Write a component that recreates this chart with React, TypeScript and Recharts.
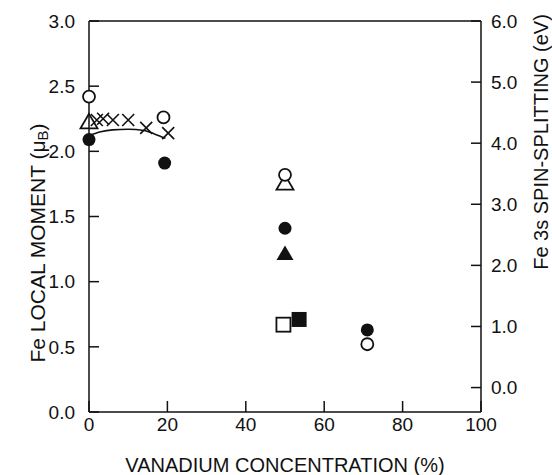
import React from "react";
import {
  ComposedChart,
  Line,
  ReferenceLine,
  Scatter,
  XAxis,
  YAxis,
} from "recharts";

type Pt = { x: number; y: number };

// values
const openCircles: Pt[] = [
  { x: 0, y: 2.42 },
  { x: 19, y: 2.26 },
  { x: 50, y: 1.82 },
  { x: 71, y: 0.52 },
];
const filledCircles: Pt[] = [
  { x: 0, y: 2.09 },
  { x: 19.3, y: 1.91 },
  { x: 50, y: 1.41 },
  { x: 71, y: 0.63 },
];
const openTriangles: Pt[] = [
  { x: 0, y: 2.23 },
  { x: 50, y: 1.76 },
];
const filledTriangles: Pt[] = [{ x: 50, y: 1.22 }];
const openSquares: Pt[] = [{ x: 49.6, y: 0.67 }];
const filledSquares: Pt[] = [{ x: 53.6, y: 0.71 }];
const crosses: Pt[] = [
  { x: 2, y: 2.24 },
  { x: 3.6, y: 2.25 },
  { x: 6.1, y: 2.24 },
  { x: 10, y: 2.24 },
  { x: 14.6, y: 2.18 },
  { x: 20.2, y: 2.14 },
];
const fitCurve: Pt[] = [
  { x: 0, y: 2.12 },
  { x: 3, y: 2.15 },
  { x: 6, y: 2.165 },
  { x: 10, y: 2.17 },
  { x: 14, y: 2.16 },
  { x: 17, y: 2.13 },
  { x: 19.5, y: 2.1 },
];

const xTicks = [0, 20, 40, 60, 80, 100];
const leftTicks = [0, 0.5, 1, 1.5, 2, 2.5, 3];
const rightTicks = [0, 1, 2, 3, 4, 5, 6];

const FONT = "'Liberation Sans', Arial, Helvetica, sans-serif";
const INK = "#111";

type Kind = "oc" | "fc" | "ot" | "ft" | "os" | "fs" | "x";

const marker = (kind: Kind) => (props: any) => {
  const { cx, cy } = props;
  if (cx == null || cy == null) return <g />;
  switch (kind) {
    case "oc":
      return <circle cx={cx} cy={cy} r={6} fill="#fff" stroke={INK} strokeWidth={1.8} />;
    case "fc":
      return <circle cx={cx} cy={cy} r={6.5} fill={INK} />;
    case "ot":
    case "ft": {
      const pts = `${cx},${cy - 7.5} ${cx + 8.5},${cy + 7} ${cx - 8.5},${cy + 7}`;
      return kind === "ot" ? (
        <polygon points={pts} fill="#fff" fillOpacity={0} stroke={INK} strokeWidth={1.8} />
      ) : (
        <polygon points={pts} fill={INK} />
      );
    }
    case "os":
      return <rect x={cx - 7} y={cy - 7} width={14} height={14} fill="#fff" stroke={INK} strokeWidth={1.8} />;
    case "fs":
      return <rect x={cx - 7.5} y={cy - 7.5} width={15} height={15} fill={INK} />;
    default:
      return (
        <path
          d={`M${cx - 6},${cy - 6}L${cx + 6},${cy + 6}M${cx - 6},${cy + 6}L${cx + 6},${cy - 6}`}
          stroke={INK}
          strokeWidth={1.6}
          fill="none"
        />
      );
  }
};

// axis titles sit where the original figure put them
const LeftTitle = () => {
  const cx = 37;
  const cy = 243;
  return (
    <text
      x={cx}
      y={cy}
      transform={`rotate(-90, ${cx}, ${cy})`}
      textAnchor="middle"
      dominantBaseline="central"
      fontSize={21}
      fontFamily={FONT}
      fill={INK}
    >
      Fe LOCAL MOMENT (μ
      <tspan fontSize={15} dy={5}>B</tspan>
      <tspan dy={-5}>)</tspan>
    </text>
  );
};

const RightTitle = () => {
  const cx = 541;
  const cy = 142;
  return (
    <text
      x={cx}
      y={cy}
      transform={`rotate(-90, ${cx}, ${cy})`}
      textAnchor="middle"
      dominantBaseline="central"
      fontSize={20}
      fontFamily={FONT}
      fill={INK}
    >
      Fe 3s SPIN-SPLITTING (eV)
    </text>
  );
};

const tickStyle = { fill: INK, fontSize: 19, fontFamily: FONT };
const axisLine = { stroke: INK, strokeWidth: 1.5 };

export default function App() {
  return (
    <div style={{ position: "absolute", left: 0, top: 0, background: "#fff" }}>
      <ComposedChart
        width={552}
        height={475}
        margin={{ top: 21, right: 0, bottom: 0, left: 0 }}
      >
        <XAxis
          type="number"
          dataKey="x"
          domain={[0, 100]}
          ticks={xTicks}
          height={63}
          tickSize={-11}
          tickMargin={17}
          tick={tickStyle}
          axisLine={axisLine}
          tickLine={axisLine}
          label={{
            value: "VANADIUM CONCENTRATION (%)",
            position: "insideBottom",
            offset: 3,
            fill: INK,
            fontSize: 20,
            fontFamily: FONT,
          }}
        />
        <YAxis
          yAxisId="left"
          type="number"
          dataKey="y"
          domain={[0, 3]}
          ticks={leftTicks}
          width={89}
          tickSize={-10}
          tickMargin={24}
          tick={tickStyle}
          tickFormatter={(v: number) => v.toFixed(1)}
          axisLine={axisLine}
          tickLine={axisLine}
          label={<LeftTitle />}
        />
        <YAxis
          yAxisId="right"
          orientation="right"
          type="number"
          domain={[-0.4, 6]}
          allowDataOverflow
          ticks={rightTicks}
          width={71}
          tickSize={-10}
          tickMargin={20}
          tick={tickStyle}
          tickFormatter={(v: number) => v.toFixed(1)}
          axisLine={axisLine}
          tickLine={axisLine}
          label={<RightTitle />}
        />
        <ReferenceLine yAxisId="right" y={6} stroke={INK} strokeWidth={1.5} />
        <Line
          yAxisId="left"
          data={fitCurve}
          dataKey="y"
          type="monotone"
          stroke={INK}
          strokeWidth={1.6}
          dot={false}
          activeDot={false}
          isAnimationActive={false}
        />
        <Scatter yAxisId="left" data={crosses} shape={marker("x")} isAnimationActive={false} />
        <Scatter yAxisId="left" data={openTriangles} shape={marker("ot")} isAnimationActive={false} />
        <Scatter yAxisId="left" data={filledTriangles} shape={marker("ft")} isAnimationActive={false} />
        <Scatter yAxisId="left" data={openSquares} shape={marker("os")} isAnimationActive={false} />
        <Scatter yAxisId="left" data={filledSquares} shape={marker("fs")} isAnimationActive={false} />
        <Scatter yAxisId="left" data={filledCircles} shape={marker("fc")} isAnimationActive={false} />
        <Scatter yAxisId="left" data={openCircles} shape={marker("oc")} isAnimationActive={false} />
      </ComposedChart>
    </div>
  );
}
